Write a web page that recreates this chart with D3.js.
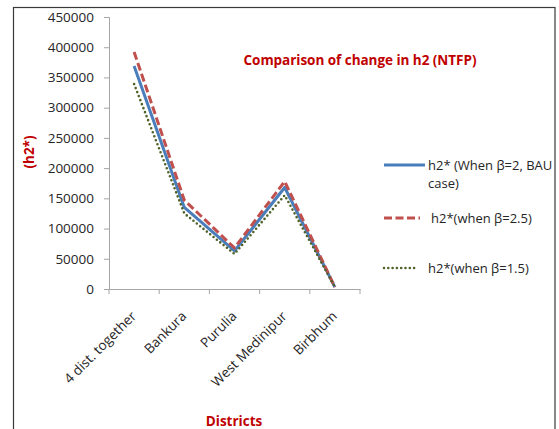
<!DOCTYPE html>
<html>
<head>
<meta charset="utf-8">
<script src="https://cdn.jsdelivr.net/npm/d3@7"></script>
<style>
  body { margin: 0; background: #fff; }
  text { font-family: "Open Sans", Lato, sans-serif; }
</style>
</head>
<body>
<svg id="plot"></svg>
<script>
var width = 559;
var height = 429;

// data
var districts = ["4 dist. together", "Bankura", "Purulia", "West Medinipur", "Birbhum"];
var bau = [369000, 135000, 63000, 168000, 3000];
var beta25 = [392000, 147000, 68000, 178000, 3000];
var beta15 = [339000, 125000, 58000, 155000, 3000];
var yTicks = [0, 50000, 100000, 150000, 200000, 250000, 300000, 350000, 400000, 450000];

var seriesNames = ["h2* (When \u03b2=2, BAU", "h2*(when \u03b2=2.5)", "h2*(when \u03b2=1.5)"];

var svg = d3.select("#plot")
    .attr("width", width)
    .attr("height", height);

svg.append("rect")
    .attr("x", 13.5)
    .attr("y", 7.5)
    .attr("width", 541.5)
    .attr("height", 480)
    .attr("fill", "#fff")
    .attr("stroke", "#3a3a3a")
    .attr("stroke-width", 1.2);

var xScale = d3.scaleBand()
    .domain(districts)
    .range([109, 360]);
var yScale = d3.scaleLinear()
    .domain([0, 450000])
    .range([289, 17]);

// y axis
var yAxis = svg.append("g")
    .attr("transform", "translate(109,0)")
    .call(d3.axisLeft(yScale).tickValues(yTicks).tickSize(5).tickPadding(10).tickFormat(d3.format("d")));
yAxis.selectAll("path, line").attr("stroke", "#a6a6a6");
yAxis.selectAll("text")
    .attr("font-size", 13.5)
    .attr("fill", "#262626")
    .attr("font-family", "'Open Sans', sans-serif");

// x axis
var xAxis = svg.append("g")
    .attr("transform", "translate(0,289)")
    .call(d3.axisBottom(xScale).tickSize(0).tickPadding(0));
xAxis.select(".domain").attr("stroke", "#a6a6a6");
xAxis.selectAll(".tick text")
    .attr("font-size", 13.5)
    .attr("fill", "#262626")
    .attr("font-family", "'Open Sans', sans-serif")
    .attr("text-anchor", "end")
    .attr("y", 0)
    .attr("dy", 0)
    .attr("transform", "translate(3,28) rotate(-45)");

var bounds = districts.map(function (d) { return xScale(d); }).concat([xScale.range()[1]]);
xAxis.selectAll(".bound")
    .data(bounds)
    .enter()
    .append("line")
    .attr("class", "bound")
    .attr("x1", function (d) { return d; })
    .attr("x2", function (d) { return d; })
    .attr("y1", 0)
    .attr("y2", 5)
    .attr("stroke", "#a6a6a6");

// lines
var line = d3.line()
    .x(function (d, i) { return xScale(districts[i]) + xScale.bandwidth() / 2; })
    .y(function (d) { return yScale(d); });

var styles = [
    {color: "#4a7ebb", dash: null, cap: "butt", w: 3},
    {color: "#c0504d", dash: "8 3.5", cap: "butt", w: 3},
    {color: "#4f6228", dash: "0 4.3", cap: "round", w: 2.6}
];
var series = [bau, beta25, beta15];

series.forEach(function (s, k) {
    svg.append("path")
        .datum(s)
        .attr("d", line)
        .attr("fill", "none")
        .attr("stroke", styles[k].color)
        .attr("stroke-width", styles[k].w)
        .attr("stroke-dasharray", styles[k].dash)
        .attr("stroke-linecap", styles[k].cap)
        .attr("stroke-linejoin", "round");
});

// titles
svg.append("text")
    .attr("x", 360)
    .attr("y", 60)
    .attr("dy", "0.35em")
    .attr("text-anchor", "middle")
    .attr("font-size", 13.5)
    .attr("font-weight", "bold")
    .attr("fill", "#c00000")
    .attr("textLength", 233)
    .text("Comparison of change in h2 (NTFP)");

svg.append("text")
    .attr("transform", "translate(29,152) rotate(-90)")
    .attr("dy", "0.35em")
    .attr("text-anchor", "middle")
    .attr("font-size", 13.5)
    .attr("font-weight", "bold")
    .attr("fill", "#c00000")
    .text("(h2*)");

svg.append("text")
    .attr("x", 234)
    .attr("y", 426)
    .attr("text-anchor", "middle")
    .attr("font-size", 13.5)
    .attr("font-weight", "bold")
    .attr("fill", "#c00000")
    .text("Districts");

// legend
var legendY = [165, 218, 268];
var legendEnd = [425, 420, 417];
var legendTextX = [428, 431, 428];
var legend = svg.append("g");
series.forEach(function (s, k) {
    legend.append("line")
        .attr("x1", 384)
        .attr("x2", legendEnd[k])
        .attr("y1", legendY[k])
        .attr("y2", legendY[k])
        .attr("stroke", styles[k].color)
        .attr("stroke-width", styles[k].w)
        .attr("stroke-dasharray", styles[k].dash)
        .attr("stroke-linecap", styles[k].cap);
    legend.append("text")
        .attr("x", legendTextX[k])
        .attr("y", legendY[k])
        .attr("dy", "0.35em")
        .attr("font-size", 13)
        .attr("fill", "#262626")
        .text(seriesNames[k]);
});
legend.append("text")
    .attr("x", 428)
    .attr("y", 183)
    .attr("dy", "0.35em")
    .attr("font-size", 13)
    .attr("fill", "#262626")
    .text("case)");
</script>
</body>
</html>
